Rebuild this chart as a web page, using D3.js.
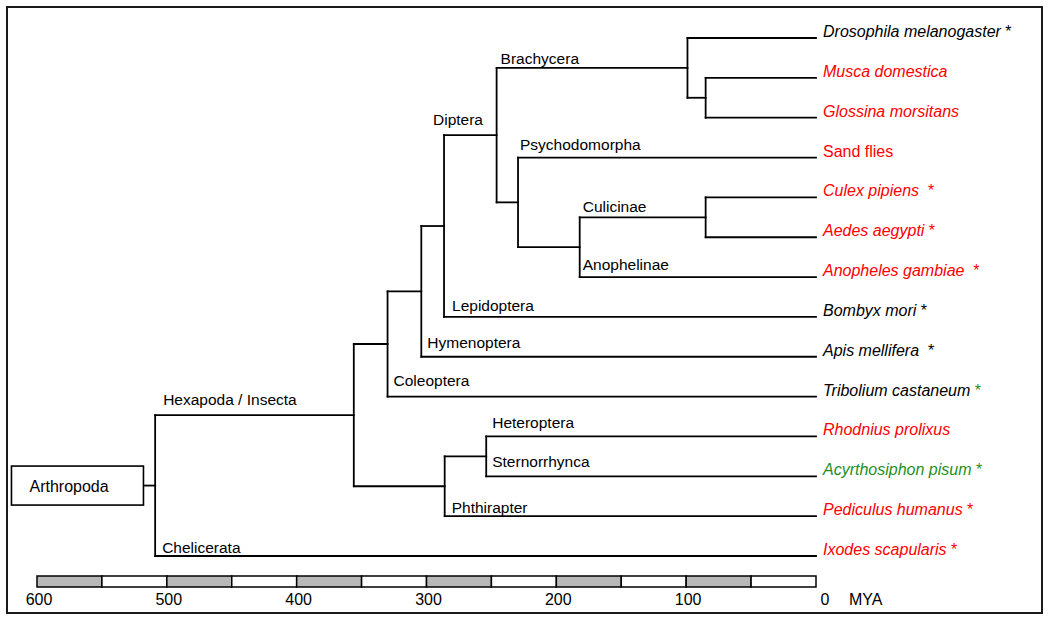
<!DOCTYPE html>
<html>
<head>
<meta charset="utf-8">
<script src="https://cdn.jsdelivr.net/npm/d3@7"></script>
<style>
  html, body { margin: 0; padding: 0; background: #fff; }
  svg text { font-family: Arial, "Liberation Sans", sans-serif; white-space: pre; }
</style>
</head>
<body>
<svg id="chart" width="1050" height="620"></svg>
<script>
// ---------------- DATA ----------------
// Tree nodes (order defines top-to-bottom order of children)
const nodeIds = [
  "Arthropoda", "Insecta", "Holometabola", "H2", "H3", "Diptera", "Brachycera",
  "Drosophila melanogaster", "Muscoidea", "Musca domestica", "Glossina morsitans",
  "Nematocera", "Sand flies", "Culicidae", "Culicinae", "Culex pipiens", "Aedes aegypti",
  "Anopheles gambiae", "Bombyx mori", "Apis mellifera", "Tribolium castaneum",
  "Paraneoptera", "Hemiptera", "Rhodnius prolixus", "Acyrthosiphon pisum",
  "Pediculus humanus", "Ixodes scapularis"
];
const nodeParents = [
  null, "Arthropoda", "Insecta", "Holometabola", "H2", "H3", "Diptera",
  "Brachycera", "Brachycera", "Muscoidea", "Muscoidea",
  "Diptera", "Nematocera", "Nematocera", "Culicidae", "Culicinae", "Culicinae",
  "Culicidae", "H3", "H2", "Holometabola",
  "Insecta", "Paraneoptera", "Hemiptera", "Hemiptera",
  "Paraneoptera", "Arthropoda"
];
// Divergence times (million years ago); leaves are 0
const nodeAges = [
  509, 356, 330, 304, 286.5, 246, 99,
  0, 85, 0, 0,
  229.5, 0, 182, 85, 0, 0,
  0, 0, 0, 0,
  286, 254, 0, 0,
  0, 0
];
// Label written on the branch leading to each node
const branchLabels = [
  "", "Hexapoda / Insecta", "", "", "", "Diptera", "Brachycera",
  "", "", "", "",
  "", "Psychodomorpha", "", "Culicinae", "", "",
  "Anophelinae", "Lepidoptera", "Hymenoptera", "Coleoptera",
  "", "", "Heteroptera", "Sternorrhynca",
  "Phthirapter", "Chelicerata"
];
const rootStemAge = 518;

// Leaves (top to bottom)
const leafNames = [
  "Drosophila melanogaster", "Musca domestica", "Glossina morsitans", "Sand flies",
  "Culex pipiens", "Aedes aegypti", "Anopheles gambiae", "Bombyx mori",
  "Apis mellifera", "Tribolium castaneum", "Rhodnius prolixus",
  "Acyrthosiphon pisum", "Pediculus humanus", "Ixodes scapularis"
];
const leafGroup = [
  "model", "vector", "vector", "vector",
  "vector", "vector", "vector", "model",
  "model", "model", "vector",
  "pest", "vector", "vector"
];
const leafStar = [
  " *", "", "", "",
  "  *", " *", "  *", " *",
  "  *", " *", "",
  " *", " *", " *"
];
const starGroup = [
  "model", "", "", "",
  "vector", "vector", "vector", "model",
  "model", "pest", "",
  "pest", "vector", "vector"
];
const leafItalic = [
  true, true, true, false,
  true, true, true, true,
  true, true, true,
  true, true, true
];

// Time axis
const scaleSegmentsStart = [600, 550, 500, 450, 400, 350, 300, 250, 200, 150, 100, 50];
const scaleSegmentStep = 50;
const tickValues = [600, 500, 400, 300, 200, 100, 0];
const axisUnit = "MYA";

// ---------------- DRAWING ----------------
const groupColor = { model: "#000000", vector: "#ff0000", pest: "#1f8f1f" };

const svg = d3.select("#chart");

// frame
svg.append("rect")
  .attr("x", 7).attr("y", 7).attr("width", 1035).attr("height", 606)
  .attr("fill", "none").attr("stroke", "#1a1a1a").attr("stroke-width", 2);

const x = d3.scaleLinear().domain([600, 0]).range([37, 816]);
const y = d3.scalePoint().domain(leafNames).range([38, 556]);

const table = nodeIds.map((id, i) => ({ id, parent: nodeParents[i], age: nodeAges[i], label: branchLabels[i] }));
const root = d3.stratify().id(d => d.id).parentId(d => d.parent)(table);

root.eachAfter(n => {
  n.px = x(n.data.age);
  if (!n.children) n.py = y(n.data.id);
  else n.py = (n.children[0].py + n.children[n.children.length - 1].py) / 2;
});

const lineG = svg.append("g").attr("stroke", "#000").attr("stroke-width", 1.8)
  .attr("stroke-linecap", "square").attr("fill", "none");

// horizontal branches
root.descendants().filter(n => n.parent).forEach(n => {
  lineG.append("line")
    .attr("x1", n.parent.px).attr("x2", n.px)
    .attr("y1", n.py).attr("y2", n.py);
});
// vertical connectors
root.descendants().filter(n => n.children).forEach(n => {
  lineG.append("line")
    .attr("x1", n.px).attr("x2", n.px)
    .attr("y1", n.children[0].py).attr("y2", n.children[n.children.length - 1].py);
});
// root stem
lineG.append("line")
  .attr("x1", x(rootStemAge)).attr("x2", root.px)
  .attr("y1", root.py).attr("y2", root.py);

// Arthropoda box
const boxW = 132, boxH = 39;
svg.append("rect")
  .attr("x", x(rootStemAge) - boxW).attr("y", root.py - boxH / 2)
  .attr("width", boxW).attr("height", boxH)
  .attr("fill", "#fff").attr("stroke", "#000").attr("stroke-width", 1.6);
svg.append("text")
  .attr("x", x(rootStemAge) - boxW + 18).attr("y", root.py + 6)
  .attr("font-size", 16).attr("fill", "#000")
  .text(root.data.id);

// Branch labels (offsets relative to branch start)
const labelOffset = {
  "Hexapoda / Insecta": [8, -10], "Chelicerata": [7, -3], "Coleoptera": [6, -11],
  "Hymenoptera": [6, -9], "Lepidoptera": [8, -6], "Diptera": [-11, -10],
  "Brachycera": [4, -4], "Psychodomorpha": [2, -8], "Culicinae": [3, -5],
  "Anophelinae": [3, -7], "Heteroptera": [6, -8], "Sternorrhynca": [6, -9],
  "Phthirapter": [7, -3]
};
root.descendants().filter(n => n.parent && n.data.label).forEach(n => {
  const off = labelOffset[n.data.label] || [6, -7];
  svg.append("text")
    .attr("x", n.parent.px + off[0]).attr("y", n.py + off[1])
    .attr("font-size", 15.5).attr("fill", "#000")
    .text(n.data.label);
});

// Leaf labels
leafNames.forEach((name, i) => {
  const t = svg.append("text")
    .attr("x", 823).attr("y", y(name) - 1)
    .attr("font-size", 16)
    .attr("xml:space", "preserve");
  t.append("tspan")
    .attr("fill", groupColor[leafGroup[i]])
    .attr("font-style", leafItalic[i] ? "italic" : "normal")
    .text(name);
  if (leafStar[i]) {
    t.append("tspan")
      .attr("fill", groupColor[starGroup[i]])
      .text(leafStar[i]);
  }
});

// Time scale bar
const barY = 576, barH = 11;
svg.append("g").selectAll("rect")
  .data(scaleSegmentsStart)
  .join("rect")
  .attr("x", d => x(d))
  .attr("y", barY)
  .attr("width", d => x(d - scaleSegmentStep) - x(d))
  .attr("height", barH)
  .attr("fill", (d, i) => i % 2 === 0 ? "#b8b8b8" : "#ffffff")
  .attr("stroke", "#000").attr("stroke-width", 1.5);

svg.append("g").selectAll("text")
  .data(tickValues)
  .join("text")
  .attr("x", d => x(d) + (d === 0 ? 9 : 2))
  .attr("y", 605)
  .attr("text-anchor", "middle")
  .attr("font-size", 16)
  .attr("fill", "#000")
  .text(d => d);

svg.append("text")
  .attr("x", 849).attr("y", 605)
  .attr("font-size", 16).attr("fill", "#000")
  .text(axisUnit);
</script>
</body>
</html>
